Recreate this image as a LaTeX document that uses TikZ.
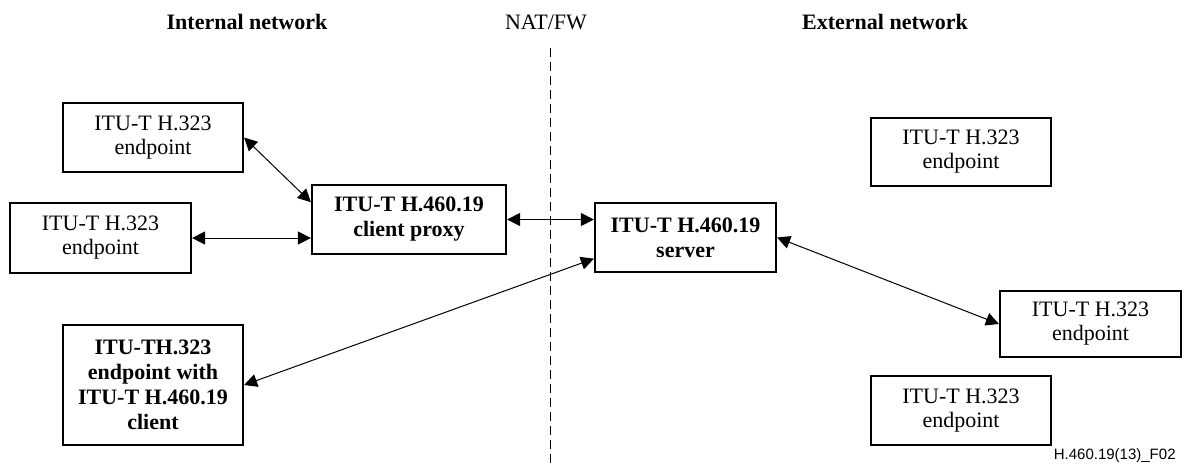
\documentclass[tikz,border=0pt]{standalone}
\usepackage{fontspec}
\setmainfont{Liberation Serif}
\newfontfamily\figfont{Liberation Sans}
\usetikzlibrary{arrows.meta,calc}

\begin{document}
\begin{tikzpicture}[x=0.5pt,y=-0.5pt,
  box/.style={draw,line width=1.1pt,inner sep=0pt,align=center,
    minimum width=90pt,minimum height=34.5pt,font=\fontsize{11}{12}\selectfont},
  boldbox/.style={box,font=\fontsize{11}{12.5}\selectfont\bfseries},
  link/.style={line width=0.5pt,{Triangle[length=6.5pt,width=6.5pt]}-{Triangle[length=6.5pt,width=6.5pt]}},
  head/.style={font=\fontsize{11}{12}\selectfont}]
\useasboundingbox (0,0) rectangle (1184,463);
% headings and the NAT/FW border
\node[head,font=\fontsize{11}{12}\selectfont\bfseries] (intnet) at (247,22) {Internal network};
\node[head] (natfw) at (546,22) {NAT/FW};
\node[head,font=\fontsize{11}{12}\selectfont\bfseries] (extnet) at (885,22) {External network};
\coordinate (fwtop) at (550,48);
\coordinate (fwbot) at (550,463);
\draw[line width=0.5pt,dash pattern=on 4.5pt off 2.5pt] (fwtop)--(fwbot);
% internal side
\node[box] (ep1) at (153,137.5) {ITU-T H.323\\endpoint};
\node[box,minimum width=90.5pt,minimum height=35pt] (ep2) at (100.5,238) {ITU-T H.323\\endpoint};
\node[boldbox,minimum width=97pt] (proxy) at (409,219.5) {ITU-T H.460.19\\client proxy};
\node[boldbox,minimum height=60pt] (h19ep) at (153,385) {ITU-TH.323\\endpoint with\\ITU-T H.460.19\\client};
% external side
\node[boldbox,minimum width=90.5pt] (server) at (685.5,237.5) {ITU-T H.460.19\\server};
\node[box,minimum height=34pt] (ep3) at (961,152) {ITU-T H.323\\endpoint};
\node[box,minimum width=90.5pt,minimum height=33pt] (ep4) at (1090.5,324) {ITU-T H.323\\endpoint};
\node[box] (ep5) at (961,410.5) {ITU-T H.323\\endpoint};
% connections
\draw[link] (ep1.east)--(proxy.170);
\draw[link] (ep2.east)--(ep2.east -| proxy.west);
\draw[link] (proxy.east)--(proxy.east -| server.west);
\draw[link] (h19ep.east)--(server.193);
\draw[link] (server.east)--(ep4.west);
\node[anchor=east,inner sep=0pt,font=\figfont\fontsize{7.5}{9}\selectfont] (figno) at (1176,456) {H.460.19(13)\_F02};
\end{tikzpicture}
\end{document}
